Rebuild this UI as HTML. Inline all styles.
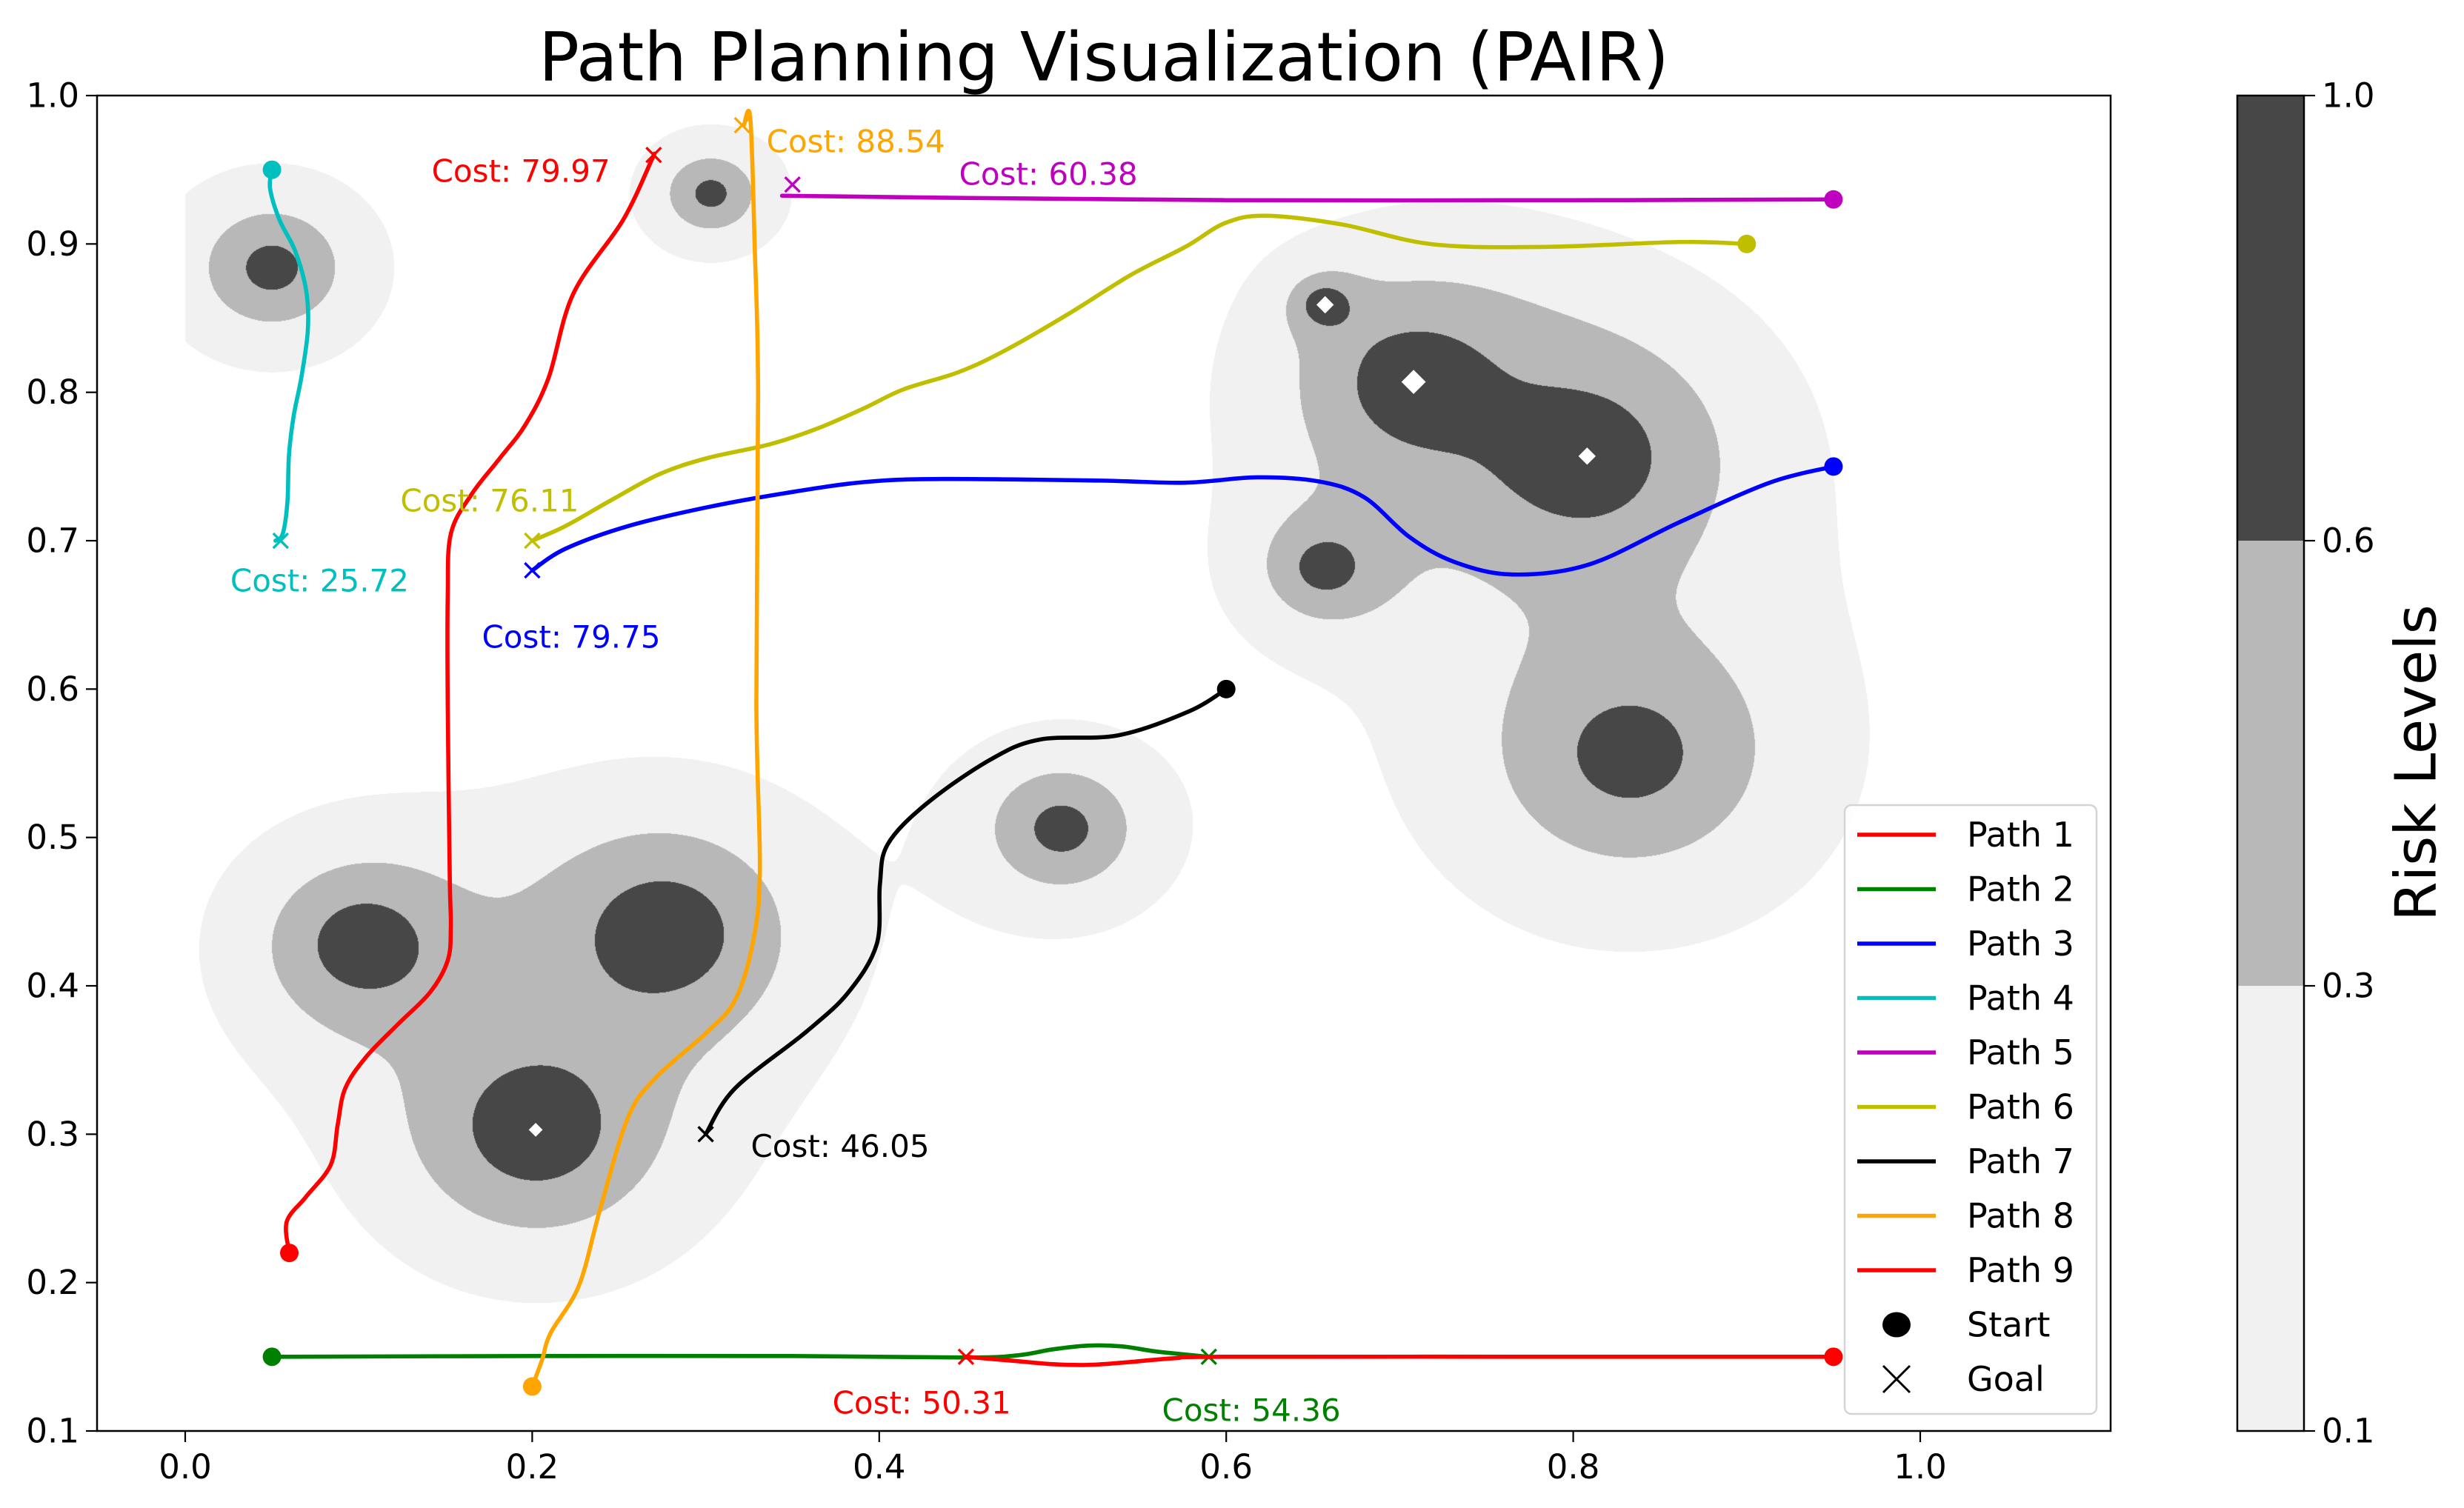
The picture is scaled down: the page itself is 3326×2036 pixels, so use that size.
<!DOCTYPE html>
<html><head><meta charset="utf-8"><style>
html,body{margin:0;padding:0;background:#fff;}
#wrap{position:relative;width:3326px;height:2036px;overflow:hidden;}
canvas,svg{position:absolute;left:0;top:0;}
text{font-family:"DejaVu Sans","Liberation Sans",sans-serif;}
</style></head><body>
<div id="wrap">
<canvas id="risk" width="3326" height="2036"></canvas>
<svg id="svg" width="3326" height="2036"></svg>
</div>
<script>
// ---- data ----
const obsX=[0.05,0.303,0.103,0.276,0.202,0.505,0.657,0.708,0.808,0.657,0.833];
const obsY=[0.884,0.934,0.428,0.436,0.303,0.506,0.859,0.807,0.757,0.682,0.556];
const obsAmp=[0.97,0.92,1.15,1.2,1.2,0.97,1.2,1.05,1.05,0.95,0.97];
const obsScale=[0.031,0.021,0.037,0.046,0.046,0.031,0.010,0.045,0.054,0.023,0.058];
const riskLevels=[0.1,0.3,0.6,1.0];
const peakX=[0.202,0.657,0.708,0.808];
const peakY=[0.303,0.859,0.807,0.757];
const peakSize=[0.004,0.005,0.007,0.005];
const xTicks=[0.0,0.2,0.4,0.6,0.8,1.0];
const yTicks=[0.1,0.2,0.3,0.4,0.5,0.6,0.7,0.8,0.9,1.0];
const pathNames=["Path 1","Path 2","Path 3","Path 4","Path 5","Path 6","Path 7","Path 8","Path 9"];
const pathColors=["#ff0000","#008000","#0000ff","#00bfbf","#bf00bf","#bfbf00","#000000","#ffa500","#ff0000"];
const p1x=[0.06,0.0585,0.0696,0.0839,0.0879,0.0922,0.1042,0.1227,0.1411,0.1513,0.1531,0.1525,0.1513,0.1513,0.1531,0.1649,0.1812,0.196,0.2095,0.2237,0.2523,0.2688,0.27];
const p1y=[0.22,0.241,0.2578,0.2794,0.3065,0.3308,0.352,0.3742,0.3956,0.4171,0.4399,0.4716,0.59,0.662,0.7046,0.731,0.7554,0.778,0.81,0.8665,0.916,0.9565,0.96];
const p2x=[0.05,0.2,0.35,0.45,0.48,0.50,0.52,0.54,0.56,0.59];
const p2y=[0.15,0.1505,0.1505,0.1495,0.151,0.155,0.1575,0.157,0.1535,0.15];
const p3x=[0.95,0.913,0.8611,0.8092,0.7652,0.7317,0.7056,0.6798,0.654,0.6178,0.5764,0.5272,0.4366,0.3913,0.346,0.3007,0.2554,0.2192,0.2];
const p3y=[0.75,0.739,0.7124,0.684,0.6772,0.6856,0.7025,0.7291,0.7398,0.7427,0.7391,0.7405,0.7416,0.7395,0.7321,0.7225,0.7099,0.6946,0.68];
const p4x=[0.05,0.0489,0.0543,0.0634,0.0697,0.0707,0.067,0.0625,0.0598,0.0589,0.0562,0.052];
const p4y=[0.95,0.9375,0.9163,0.8952,0.8687,0.8422,0.8105,0.784,0.7576,0.7258,0.7046,0.70];
const p5x=[0.95,0.8,0.6,0.45,0.344];
const p5y=[0.93,0.9295,0.9295,0.931,0.9325];
const p6x=[0.9,0.8611,0.7835,0.7187,0.6669,0.6229,0.5996,0.5764,0.5453,0.509,0.4728,0.4457,0.414,0.3913,0.3641,0.337,0.3007,0.2736,0.2464,0.2192,0.2];
const p6y=[0.9,0.9013,0.898,0.8998,0.9131,0.919,0.9142,0.898,0.8793,0.8528,0.8284,0.8136,0.802,0.7893,0.7755,0.765,0.7556,0.745,0.7279,0.7099,0.70];
const p7x=[0.6,0.5784,0.5376,0.4926,0.464,0.4272,0.4049,0.4004,0.3986,0.3822,0.3578,0.3168,0.3];
const p7y=[0.6,0.5849,0.5688,0.566,0.5524,0.5227,0.4954,0.4684,0.4282,0.3956,0.3689,0.3308,0.3];
const p8x=[0.2,0.2056,0.2106,0.2269,0.2391,0.2554,0.2717,0.3005,0.3168,0.327,0.3312,0.3292,0.3302,0.3282,0.3257,0.322];
const p8y=[0.13,0.1476,0.166,0.1979,0.2493,0.3118,0.3386,0.3685,0.3901,0.4282,0.4769,0.5902,0.7998,0.8998,0.9847,0.98];
const p9x=[0.95,0.8,0.6,0.57,0.54,0.52,0.50,0.48,0.45];
const p9y=[0.15,0.15,0.15,0.149,0.146,0.1445,0.145,0.147,0.15];
const startX=[0.06,0.05,0.95,0.05,0.95,0.9,0.6,0.2,0.95];
const startY=[0.22,0.15,0.75,0.95,0.93,0.9,0.6,0.13,0.15];
const goalX=[0.27,0.59,0.2,0.055,0.35,0.2,0.3,0.321,0.45];
const goalY=[0.96,0.15,0.68,0.70,0.94,0.70,0.3,0.98,0.15];
const costLabels=["Cost: 79.97","Cost: 54.36","Cost: 79.75","Cost: 25.72","Cost: 60.38","Cost: 76.11","Cost: 46.05","Cost: 88.54","Cost: 50.31"];
const costX=[0.142,0.563,0.171,0.026,0.446,0.124,0.326,0.335,0.373];
const costY=[0.949,0.114,0.635,0.673,0.947,0.727,0.292,0.969,0.119];

// ---- axes ----
const X0=250, XS=2342, Y0=1932, YS=2003.3;
const PL=131, PR=2849, PT=129, PB=1932;
const sx=v=>X0+v*XS, sy=v=>Y0-(v-0.1)*YS;
const NS="http://www.w3.org/2000/svg";
const svg=document.getElementById('svg');
function mk(tag,attrs,parent){const e=document.createElementNS(NS,tag);for(const k in attrs)e.setAttribute(k,attrs[k]);(parent||svg).appendChild(e);return e;}

// ---- risk field on canvas ----
(function(){
  const c=document.getElementById('risk').getContext('2d');
  const x1=Math.round(sx(0)), x2=Math.round(sx(1)), y1=Math.round(sy(1)), y2=PB;
  const w=x2-x1, h=y2-y1;
  const img=c.createImageData(w,h); const d=img.data;
  const cols=[[255,255,255],[241,241,241],[184,184,184],[71,71,71]];
  for(let j=0;j<h;j++){
    const yv=0.1+(Y0-(y1+j+0.5))/YS;
    for(let i=0;i<w;i++){
      const xv=(x1+i+0.5-X0)/XS;
      let r=0;
      for(let k=0;k<obsX.length;k++){
        const dx=xv-obsX[k], dy=yv-obsY[k];
        r+=obsAmp[k]*Math.exp(-Math.sqrt(dx*dx+dy*dy)/obsScale[k]);
      }
      let lv=0;
      if(r>=riskLevels[2])lv=3;else if(r>=riskLevels[1])lv=2;else if(r>=riskLevels[0])lv=1;
      const p=(j*w+i)*4, cc=cols[lv];
      d[p]=cc[0];d[p+1]=cc[1];d[p+2]=cc[2];d[p+3]=255;
    }
  }
  c.putImageData(img,x1,y1);
})();

// white peaks
for(let i=0;i<peakX.length;i++){
  const cx=sx(peakX[i]), cy=sy(peakY[i]), s=peakSize[i]*XS;
  const e=mk('polygon',{points:`${cx-s},${cy} ${cx},${cy-s} ${cx+s},${cy} ${cx},${cy+s}`,fill:'#fff'});
  
  
}

// ---- paths ----
function smooth(xs,ys){
  const P=xs.map((x,i)=>[sx(x),sy(ys[i])]);
  let s=`M${P[0][0]},${P[0][1]}`;
  for(let i=0;i<P.length-1;i++){
    const p0=P[Math.max(0,i-1)],p1=P[i],p2=P[i+1],p3=P[Math.min(P.length-1,i+2)];
    const c1=[p1[0]+(p2[0]-p0[0])/6,p1[1]+(p2[1]-p0[1])/6];
    const c2=[p2[0]-(p3[0]-p1[0])/6,p2[1]-(p3[1]-p1[1])/6];
    s+=`C${c1[0]},${c1[1]} ${c2[0]},${c2[1]} ${p2[0]},${p2[1]}`;
  }
  return s;
}
const PX=[p1x,p2x,p3x,p4x,p5x,p6x,p7x,p8x,p9x], PY=[p1y,p2y,p3y,p4y,p5y,p6y,p7y,p8y,p9y];
function cross(cx,cy,s,col,sw,parent){
  const g=mk('g',{},parent);
  mk('path',{d:`M${cx-s},${cy-s}L${cx+s},${cy+s}M${cx-s},${cy+s}L${cx+s},${cy-s}`,stroke:col,'stroke-width':sw,fill:'none'},g);
  return g;
}
for(let i=0;i<9;i++){
  const p=mk('path',{d:smooth(PX[i],PY[i]),stroke:pathColors[i],'stroke-width':5.6,fill:'none','stroke-linejoin':'round','stroke-linecap':'round'});
  
  
  const s=mk('circle',{cx:sx(startX[i]),cy:sy(startY[i]),r:12.5,fill:pathColors[i]});
  
  
  const g=cross(sx(goalX[i]),sy(goalY[i]),10,pathColors[i],3.4);
  
  
  const t=mk('text',{x:sx(costX[i]),y:sy(costY[i]),fill:pathColors[i],'font-size':42,'dominant-baseline':'central'});
  t.textContent=costLabels[i];
  
  
}

// ---- frame & ticks ----
const fr=mk('rect',{x:PL,y:PT,width:PR-PL,height:PB-PT,fill:'none',stroke:'#000','stroke-width':2.5});


xTicks.forEach(v=>{
  const x=sx(v);
  const l=mk('line',{x1:x,y1:PB,x2:x,y2:PB+15,stroke:'#000','stroke-width':2.2});
  
  
  const t=mk('text',{x:x,y:PB+64,'font-size':45,'text-anchor':'middle',fill:'#000'});
  t.textContent=v.toFixed(1);
  
  
});
yTicks.forEach(v=>{
  const y=sy(v);
  const l=mk('line',{x1:PL-15,y1:y,x2:PL,y2:y,stroke:'#000','stroke-width':2.2});
  
  
  const t=mk('text',{x:PL-24,y:y,'font-size':45,'text-anchor':'end','dominant-baseline':'central',fill:'#000'});
  t.textContent=v.toFixed(1);
  
  
});
const title=mk('text',{x:1490,y:78,'font-size':91,'text-anchor':'middle','dominant-baseline':'central',fill:'#000'});
title.textContent='Path Planning Visualization (PAIR)';



// ---- colorbar ----
const CBL=3020,CBR=3110,cbFill=['#f1f1f1','#b8b8b8','#474747'];
const cbY=i=>PB-i*(PB-PT)/(riskLevels.length-1);
for(let i=0;i<riskLevels.length-1;i++){
  const r=mk('rect',{x:CBL,y:cbY(i+1),width:CBR-CBL,height:cbY(i)-cbY(i+1),fill:cbFill[i]});
  
  
}
const cbf=mk('rect',{x:CBL,y:PT,width:CBR-CBL,height:PB-PT,fill:'none',stroke:'#000','stroke-width':2.5});


riskLevels.forEach((v,i)=>{
  const y=cbY(i);
  const l=mk('line',{x1:CBR,y1:y,x2:CBR+15,y2:y,stroke:'#000','stroke-width':2.2});
  
  
  const t=mk('text',{x:CBR+24,y:y,'font-size':45,'dominant-baseline':'central',fill:'#000'});
  t.textContent=v.toFixed(1);
  
  
});
const cbl=mk('text',{x:0,y:0,'font-size':77,'text-anchor':'middle','dominant-baseline':'central',fill:'#000',transform:'translate(3262,1030) rotate(-90)'});
cbl.textContent='Risk Levels';



// ---- legend ----
const lg=mk('g',{});


mk('rect',{x:2490,y:1087,width:340,height:822,rx:9,fill:'rgba(255,255,255,0.85)',stroke:'#d4d4d4','stroke-width':2.5},lg);
const rowY=i=>1127+i*73.5;
for(let i=0;i<9;i++){
  const e=mk('g',{},lg);
  
  
  mk('line',{x1:2507,y1:rowY(i),x2:2613,y2:rowY(i),stroke:pathColors[i],'stroke-width':5.6},e);
  const t=mk('text',{x:2655,y:rowY(i),'font-size':46,'dominant-baseline':'central',fill:'#000'},e);
  t.textContent=pathNames[i];
}
const ls=mk('g',{},lg);


mk('ellipse',{cx:2560,cy:rowY(9),rx:19,ry:17,fill:'#000'},ls);
const lst=mk('text',{x:2655,y:rowY(9),'font-size':46,'dominant-baseline':'central',fill:'#000'},ls);
lst.textContent='Start';
const lgo=mk('g',{},lg);


cross(2560,rowY(10),18,'#000',3,lgo);
const lgt=mk('text',{x:2655,y:rowY(10),'font-size':46,'dominant-baseline':'central',fill:'#000'},lgo);
lgt.textContent='Goal';
</script>
</body></html>
